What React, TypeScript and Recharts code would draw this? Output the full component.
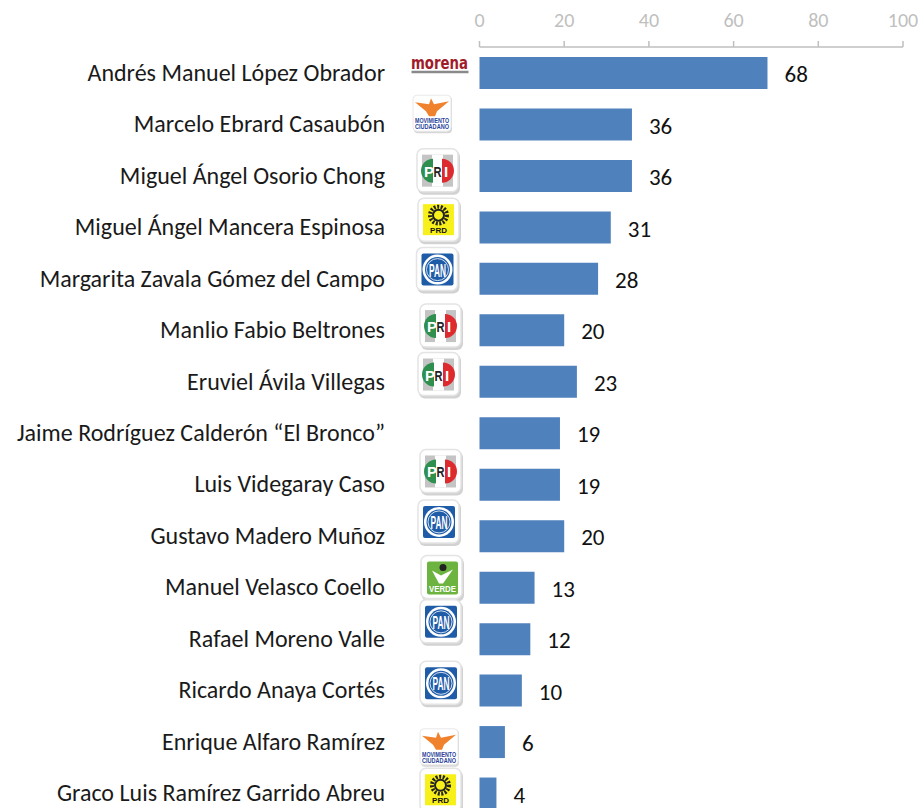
import { BarChart, Bar, XAxis, YAxis, LabelList } from 'recharts'

const names = [
  'Andrés Manuel López Obrador',
  'Marcelo Ebrard Casaubón',
  'Miguel Ángel Osorio Chong',
  'Miguel Ángel Mancera Espinosa',
  'Margarita Zavala Gómez del Campo',
  'Manlio Fabio Beltrones',
  'Eruviel Ávila Villegas',
  'Jaime Rodríguez Calderón “El Bronco”',
  'Luis Videgaray Caso',
  'Gustavo Madero Muñoz',
  'Manuel Velasco Coello',
  'Rafael Moreno Valle',
  'Ricardo Anaya Cortés',
  'Enrique Alfaro Ramírez',
  'Graco Luis Ramírez Garrido Abreu',
]
const values = [68, 36, 36, 31, 28, 20, 23, 19, 19, 20, 13, 12, 10, 6, 4]
const parties = ['morena', 'mc', 'pri', 'prd', 'pan', 'pri', 'pri', '', 'pri', 'pan', 'verde', 'pan', 'pan', 'mc', 'prd']
const ticks = [0, 20, 40, 60, 80, 100]

const data = names.map((name, i) => ({ name, value: values[i] }))
const font = 'Carlito, Calibri, sans-serif'
const logoFont = '"Liberation Sans", sans-serif'

function Badge({ x, y }: { x: number; y: number }) {
  return (
    <g>
      <rect x={x - 20} y={y - 20} width={42} height={44} rx={6} fill="#d2d2d2" />
      <rect x={x - 21} y={y - 22} width={41} height={43} rx={6} fill="#fff" stroke="#e4e4e4" strokeWidth={1.5} />
    </g>
  )
}

function Logo({ party, x, y }: { party: string; x: number; y: number }) {
  if (party === 'morena') {
    return (
      <g>
        <text x={x} y={y + 4} textAnchor="middle" fill="#a01c2a" fontSize={17} fontWeight={700} fontFamily="DejaVu Sans" textLength={57} lengthAdjust="spacingAndGlyphs">morena</text>
        <rect x={x - 28} y={y + 6} width={57} height={2.5} fill="#8a8a8a" />
      </g>
    )
  }
  if (party === 'mc') {
    return (
      <g>
        <rect x={x - 18} y={y - 17} width={38} height={37} rx={4} fill="#d6d6d6" />
        <rect x={x - 19} y={y - 18} width={38} height={36} rx={4} fill="#fff" stroke="#e8e8e8" />
        <path d={`M${x - 17} ${y - 11} L${x - 3} ${y - 9} L${x - 1} ${y - 15} L${x + 2} ${y - 9} L${x + 17} ${y - 12} L${x + 5} ${y - 2} L${x + 3} ${y + 3} L${x - 3} ${y + 3} L${x - 6} ${y - 2} Z`} fill="#f0822d" />
        <text x={x} y={y + 10} textAnchor="middle" fontSize={6.5} fontWeight={700} fontFamily={logoFont} fill="#2b3f9a" textLength={34} lengthAdjust="spacingAndGlyphs">MOVIMIENTO</text>
        <text x={x} y={y + 16} textAnchor="middle" fontSize={6.5} fontWeight={700} fontFamily={logoFont} fill="#2b3f9a" textLength={34} lengthAdjust="spacingAndGlyphs">CIUDADANO</text>
      </g>
    )
  }
  if (party === 'pri') {
    return (
      <g>
        <Badge x={x} y={y} />
        <rect x={x - 16} y={y - 16} width={31} height={32} fill="#c4c4c4" />
        <rect x={x - 6} y={y - 16} width={11} height={32} fill="#fff" />
        <path d={`M${x - 5} ${y - 12} A12 12 0 0 0 ${x - 5} ${y + 12} Z`} fill="#2f8f4e" />
        <path d={`M${x + 4} ${y - 12} A12 12 0 0 1 ${x + 4} ${y + 12} Z`} fill="#dd2a2f" />
        <text x={x - 9} y={y + 6} textAnchor="middle" fontSize={15} fontWeight={700} fontFamily={logoFont} fill="#fff">P</text>
        <text x={x - 0.5} y={y + 6} textAnchor="middle" fontSize={15} fontWeight={700} fontFamily={logoFont} fill="#222" textLength={8} lengthAdjust="spacingAndGlyphs">R</text>
        <text x={x + 8} y={y + 6} textAnchor="middle" fontSize={15} fontWeight={700} fontFamily={logoFont} fill="#fff">I</text>
      </g>
    )
  }
  if (party === 'prd') {
    return (
      <g>
        <Badge x={x} y={y} />
        <rect x={x - 16} y={y - 16} width={31} height={31} fill="#f8f01a" />
        <circle cx={x - 0.5} cy={y - 5} r={8.5} fill="none" stroke="#222" strokeWidth={4} strokeDasharray="2 1.5" />
        <circle cx={x - 0.5} cy={y - 5} r={5.5} fill="#f8f01a" stroke="#222" strokeWidth={2} />
        <text x={x - 0.5} y={y + 13} textAnchor="middle" fontSize={8} fontWeight={700} fontFamily={logoFont} fill="#111">PRD</text>
      </g>
    )
  }
  if (party === 'pan') {
    return (
      <g>
        <Badge x={x} y={y} />
        <rect x={x - 16} y={y - 16} width={32} height={32} rx={2} fill="#1f5ca8" />
        <circle cx={x} cy={y} r={15} fill="#fff" />
        <circle cx={x} cy={y} r={12.5} fill="#1f5ca8" />
        <circle cx={x} cy={y} r={11} fill="none" stroke="#fff" strokeWidth={0.8} />
        <text x={x} y={y + 7} textAnchor="middle" fontSize={18} fontWeight={700} fontFamily={logoFont} fill="#fff" textLength={17} lengthAdjust="spacingAndGlyphs">PAN</text>
      </g>
    )
  }
  if (party === 'verde') {
    return (
      <g>
        <Badge x={x} y={y} />
        <rect x={x - 15} y={y - 16} width={31} height={33} rx={2} fill="#6cb33f" />
        <path d={`M${x - 10} ${y - 7} L${x - 1} ${y - 2} L${x + 11} ${y - 8} L${x + 1} ${y + 6} L${x - 3} ${y + 6} Z`} fill="#fff" />
        <circle cx={x + 1} cy={y - 10} r={3.5} fill="#222" />
        <text x={x + 0.5} y={y + 15} textAnchor="middle" fontSize={9} fontWeight={700} fontFamily={logoFont} fill="#fff" textLength={27} lengthAdjust="spacingAndGlyphs">VERDE</text>
      </g>
    )
  }
  return null
}

// logo placement, they are not aligned in the reference
const logoX = [439.5, 432, 438, 439, 437.5, 441, 439, 0, 441, 439, 442, 441, 441, 439, 441]
const logoDY = [-8, -11, -5, -7, -9, -4, -7, 0, -13, -14, -10, -17, -7, 5, -3]

function NameTick({ x, y, payload, index }: any) {
  return (
    <g>
      <text x={385} y={y} dy={8} textAnchor="end" fill="#1a1a1a" fontSize={24} fontFamily={font}>
        {payload.value}
      </text>
      <Logo party={parties[index]} x={logoX[index]} y={y + logoDY[index]} />
    </g>
  )
}

export default function App() {
  return (
    <div style={{ position: 'absolute', left: 0, top: 0, width: 922, height: 808, overflow: 'hidden' }}>
      <BarChart
        width={922}
        height={820}
        data={data}
        layout="vertical"
        barSize={32}
        margin={{ top: 0, right: 19, bottom: 1, left: 0 }}
      >
        <XAxis
          type="number"
          orientation="top"
          domain={[0, 100]}
          ticks={ticks}
          height={47}
          axisLine={{ stroke: '#bfbfbf', strokeWidth: 1.5 }}
          tickLine={{ stroke: '#bfbfbf', strokeWidth: 1.5 }}
          tickSize={6}
          tickMargin={14}
          tick={{ fill: '#bfbfbf', fontSize: 20, fontFamily: font }}
        />
        <YAxis
          type="category"
          dataKey="name"
          width={479.5}
          interval={0}
          axisLine={false}
          tickLine={false}
          tick={<NameTick />}
        />
        <Bar dataKey="value" fill="#4f81bd" isAnimationActive={false}>
          <LabelList
            dataKey="value"
            position="right"
            offset={17}
            dy={1}
            style={{ fill: '#111111', fontSize: 23, fontFamily: font }}
          />
        </Bar>
      </BarChart>
    </div>
  )
}
